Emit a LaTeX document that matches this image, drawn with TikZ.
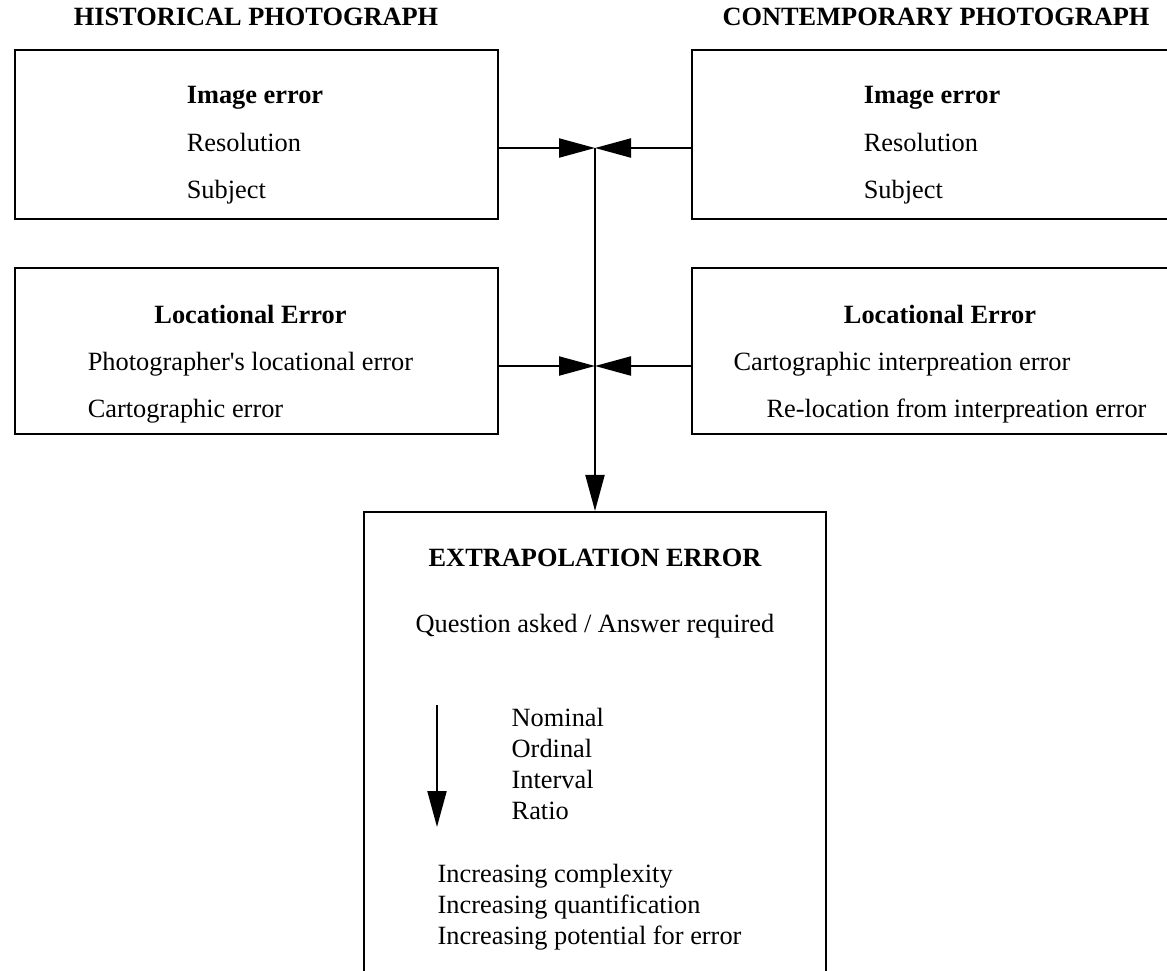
\documentclass[tikz,border=0pt]{standalone}
\usepackage{fontspec}
\setmainfont{Liberation Serif}[Ligatures=TeXOff]
\usepackage{tikz}
\usetikzlibrary{arrows.meta, positioning}

\begin{document}
\begin{tikzpicture}[
    every node/.style={font=\fontsize{15}{27}\selectfont},
    errbox/.style={draw, line width=1.2pt, minimum width=9.66cm},
    conn/.style={line width=1.2pt, -{Triangle[length=0.72cm, width=0.38cm]}},
    tight/.style={font=\fontsize{15}{17.6}\selectfont, align=left}
  ]
    \useasboundingbox (0,0) rectangle (23.34,-19.42);
    \clip (0,0) rectangle (23.34,-19.42);

    % column headings
    \node[font=\fontsize{15}{18}\selectfont\bfseries] (hhead) at (5.12,-0.34) {HISTORICAL PHOTOGRAPH};
    \node[font=\fontsize{15}{18}\selectfont\bfseries] (chead) at (18.72,-0.34) {CONTEMPORARY PHOTOGRAPH};

    % boxes
    \node[errbox, minimum height=3.38cm] (himg) at (5.13,-2.69) {};
    \node[errbox, minimum height=3.38cm] (cimg) at (18.67,-2.69) {};
    \node[errbox, minimum height=3.32cm] (hloc) at (5.13,-7.02) {};
    \node[errbox, minimum height=3.32cm] (cloc) at (18.67,-7.02) {};
    \node[draw, line width=1.2pt, minimum width=9.24cm, minimum height=9.76cm] (extrap) at (11.90,-15.12) {};

    % box texts
    \node[align=left] (himgtxt) at (5.10,-2.91) {\textbf{Image error}\\Resolution\\Subject};
    \node[align=left] (cimgtxt) at (18.64,-2.91) {\textbf{Image error}\\Resolution\\Subject};
    \node (hloctxt) at (5.01,-7.22) {\begin{tabular}{@{}l@{}}
      \multicolumn{1}{@{}c@{}}{\textbf{Locational Error}}\\
      Photographer's locational error\\
      Cartographic error\end{tabular}};
    \node (cloctxt) at (18.80,-7.22) {\begin{tabular}{@{}l@{}}
      \multicolumn{1}{@{}c@{}}{\textbf{Locational Error}}\\
      Cartographic interpreation error\\
      \hspace{0.66cm}Re-location from interpreation error\end{tabular}};

    \node[font=\fontsize{15}{18}\selectfont\bfseries] (extitle) at (11.90,-11.15) {EXTRAPOLATION ERROR};
    \node (question) at (11.90,-12.52) {Question asked / Answer required};
    \node[tight, anchor=west] (levels) at (10.11,-15.28) {Nominal\\Ordinal\\Interval\\Ratio};
    \node[tight, anchor=west] (trends) at (8.63,-18.14) {Increasing complexity\\Increasing quantification\\Increasing potential for error};

    % connectors
    \coordinate (j1) at (11.90,-2.96);
    \coordinate (j2) at (11.90,-7.32);
    \draw[conn] (himg.east |- j1) -- (j1);
    \draw[conn] (cimg.west |- j1) -- (j1);
    \draw[conn] (hloc.east |- j2) -- (j2);
    \draw[conn] (cloc.west |- j2) -- (j2);
    \draw[conn] (j1) -- (extrap.north);

    % scale arrow
    \coordinate (scaletop) at (8.74,-14.10);
    \coordinate (scalebot) at (8.74,-16.54);
    \draw[conn] (scaletop) -- (scalebot);
\end{tikzpicture}
\end{document}
